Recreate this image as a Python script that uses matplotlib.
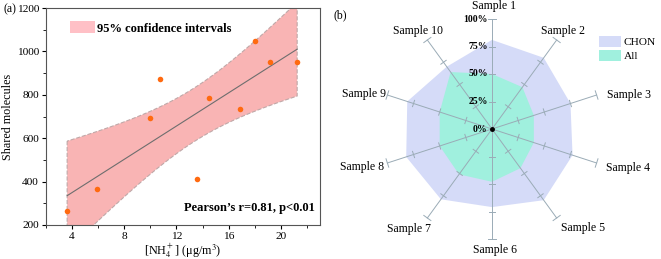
import matplotlib
matplotlib.use('Agg')
import matplotlib.pyplot as plt
import numpy as np
from matplotlib.patches import Patch

plt.rcParams['font.family'] = ['Liberation Serif', 'DejaVu Serif']
plt.rcParams['mathtext.fontset'] = 'stix'

# (a) ammonium vs shared molecules
nh4 = [3.62, 5.91, 9.95, 10.72, 13.54, 14.53, 16.90, 18.05, 19.20, 21.25]
shared = [265, 367, 694, 875, 410, 787, 734, 1049, 950, 953]

# (b) radar, fraction of shared molecules
samples = ['Sample %d' % i for i in range(1, 11)]
chon = [0.81, 0.80, 0.75, 0.77, 0.80, 0.71, 0.79, 0.82, 0.81, 0.70]
all_frac = [0.50, 0.47, 0.40, 0.40, 0.44, 0.48, 0.51, 0.50, 0.50, 0.64]
rticks = [0.25, 0.5, 0.75, 1.0]
rlabels = ['25%', '50%', '75%', '100%']

fig = plt.figure(figsize=(6.61, 2.59), dpi=100)

# ---- panel a ----
ax = fig.add_axes([46/661, 1-225/259, 274/661, 217/259])
x = np.array(nh4, dtype=float)
y = np.array(shared, dtype=float)
slope, icpt = np.polyfit(x, y, 1)
xs = np.linspace(x.min(), x.max(), 200)
fit = slope*xs + icpt
n = len(x)
s = np.sqrt(np.sum((y - (slope*x + icpt))**2)/(n-2))
se = s*np.sqrt(1/n + (xs - x.mean())**2/np.sum((x - x.mean())**2))
t = 2.306  # t(0.975, 8)
ax.fill_between(xs, fit - t*se, fit + t*se, facecolor='#f9b4b4', edgecolor='#c0a8a8',
                linestyle='--', linewidth=0.8, zorder=1)
ax.plot(xs, fit, color='#6e6e6e', lw=0.8, zorder=2)
ax.scatter(x, y, s=16, color='#ff6a10', zorder=3, linewidths=0)
ax.set_xlim(2, 23)
ax.set_ylim(200, 1200)
ax.set_xticks([4, 8, 12, 16, 20])
ax.set_xticks([2, 6, 10, 14, 18, 22], minor=True)
ax.set_yticks([200, 400, 600, 800, 1000, 1200])
ax.set_yticks([300, 500, 700, 900, 1100], minor=True)
ax.tick_params(labelsize=8.2, length=3, width=0.8, pad=2)
ax.tick_params(which='minor', length=2, width=0.6)
for sp in ax.spines.values():
    sp.set_color('#555555')
    sp.set_linewidth(0.8)
ax.set_ylabel('Shared molecules', fontsize=8.7, labelpad=2)
ax.set_xlabel('[NH$_4^+$] (μg/m$^3$)', fontsize=8.7, labelpad=1)
ax.legend(handles=[Patch(facecolor='#ffc0c6', edgecolor='none')],
          labels=['95% confidence intervals'], loc='upper left',
          bbox_to_anchor=(0.045, 0.99), frameon=False, handlelength=2.0,
          handleheight=1.1, handletextpad=0.2, prop={'weight': 'bold', 'size': 9})
ax.text(0.98, 0.08, "Pearson\u2019s r=0.81, p<0.01", transform=ax.transAxes,
        ha='right', va='center', fontsize=9, fontweight='bold')
fig.text(3/661, 1-9/259, '(a)', fontsize=8.5, va='center')

# ---- panel b ----
R = 110.0
bx = fig.add_axes([330/661, 0, 331/661, 1])
bx.set_xlim((330-492)/R, (661-492)/R)
bx.set_ylim(-130/R, 129/R)
bx.axis('off')

ang = np.arange(10)*2*np.pi/10
ux, uy = np.sin(ang), np.cos(ang)
cv = np.array(chon)
av = np.array(all_frac)
bx.fill(cv*ux, cv*uy, color='#d5dbf8', lw=0, zorder=1)
bx.fill(av*ux, av*uy, color='#a0f0de', lw=0, zorder=2)

axcol = '#9aabb6'
for i in range(10):
    bx.plot([0, ux[i]], [0, uy[i]], color=axcol, lw=0.7, zorder=3)
    px, py = uy[i], -ux[i]
    for r in rticks:
        h = 0.04 if r == 1.0 else 0.03
        bx.plot([r*ux[i] - h*px, r*ux[i] + h*px], [r*uy[i] - h*py, r*uy[i] + h*py],
                color=axcol, lw=0.7, zorder=3)
bx.plot([0], [0], 'o', color='black', ms=2.5, zorder=4)

for r, lab in zip([0] + rticks, ['0%'] + rlabels):
    bx.text(-0.04, r, lab, ha='right', va='center', fontsize=7, fontweight='bold', zorder=5)

# label offsets in pixels from axis ends
offs = [(2, 13, 'center'), (6, 9, 'center'), (10, 0, 'left'), (9, -5, 'left'),
        (26, -10, 'center'), (3, -11, 'center'), (-18, -11, 'center'), (-3, -4, 'right'),
        (-1, 1, 'right'), (-9, 9, 'center')]
for i, lab in enumerate(samples):
    dx, dy, ha = offs[i]
    bx.annotate(lab, (ux[i], uy[i]), xytext=(dx, dy), textcoords='offset pixels',
                ha=ha, va='center', fontsize=8.5)

bx.legend(handles=[Patch(facecolor='#d5dbf8'), Patch(facecolor='#a0f0de')],
          labels=['CHON', 'All'], loc='upper left', bbox_to_anchor=(599/661, 1-36/259),
          bbox_transform=fig.transFigure, frameon=False, fontsize=8.2,
          handlelength=1.9, handleheight=1.1, handletextpad=0.25, labelspacing=0.2,
          borderpad=0, borderaxespad=0)
fig.text(333/661, 1-15/259, '(b)', fontsize=8.5, va='center')

fig.savefig('out.png', dpi=100)
